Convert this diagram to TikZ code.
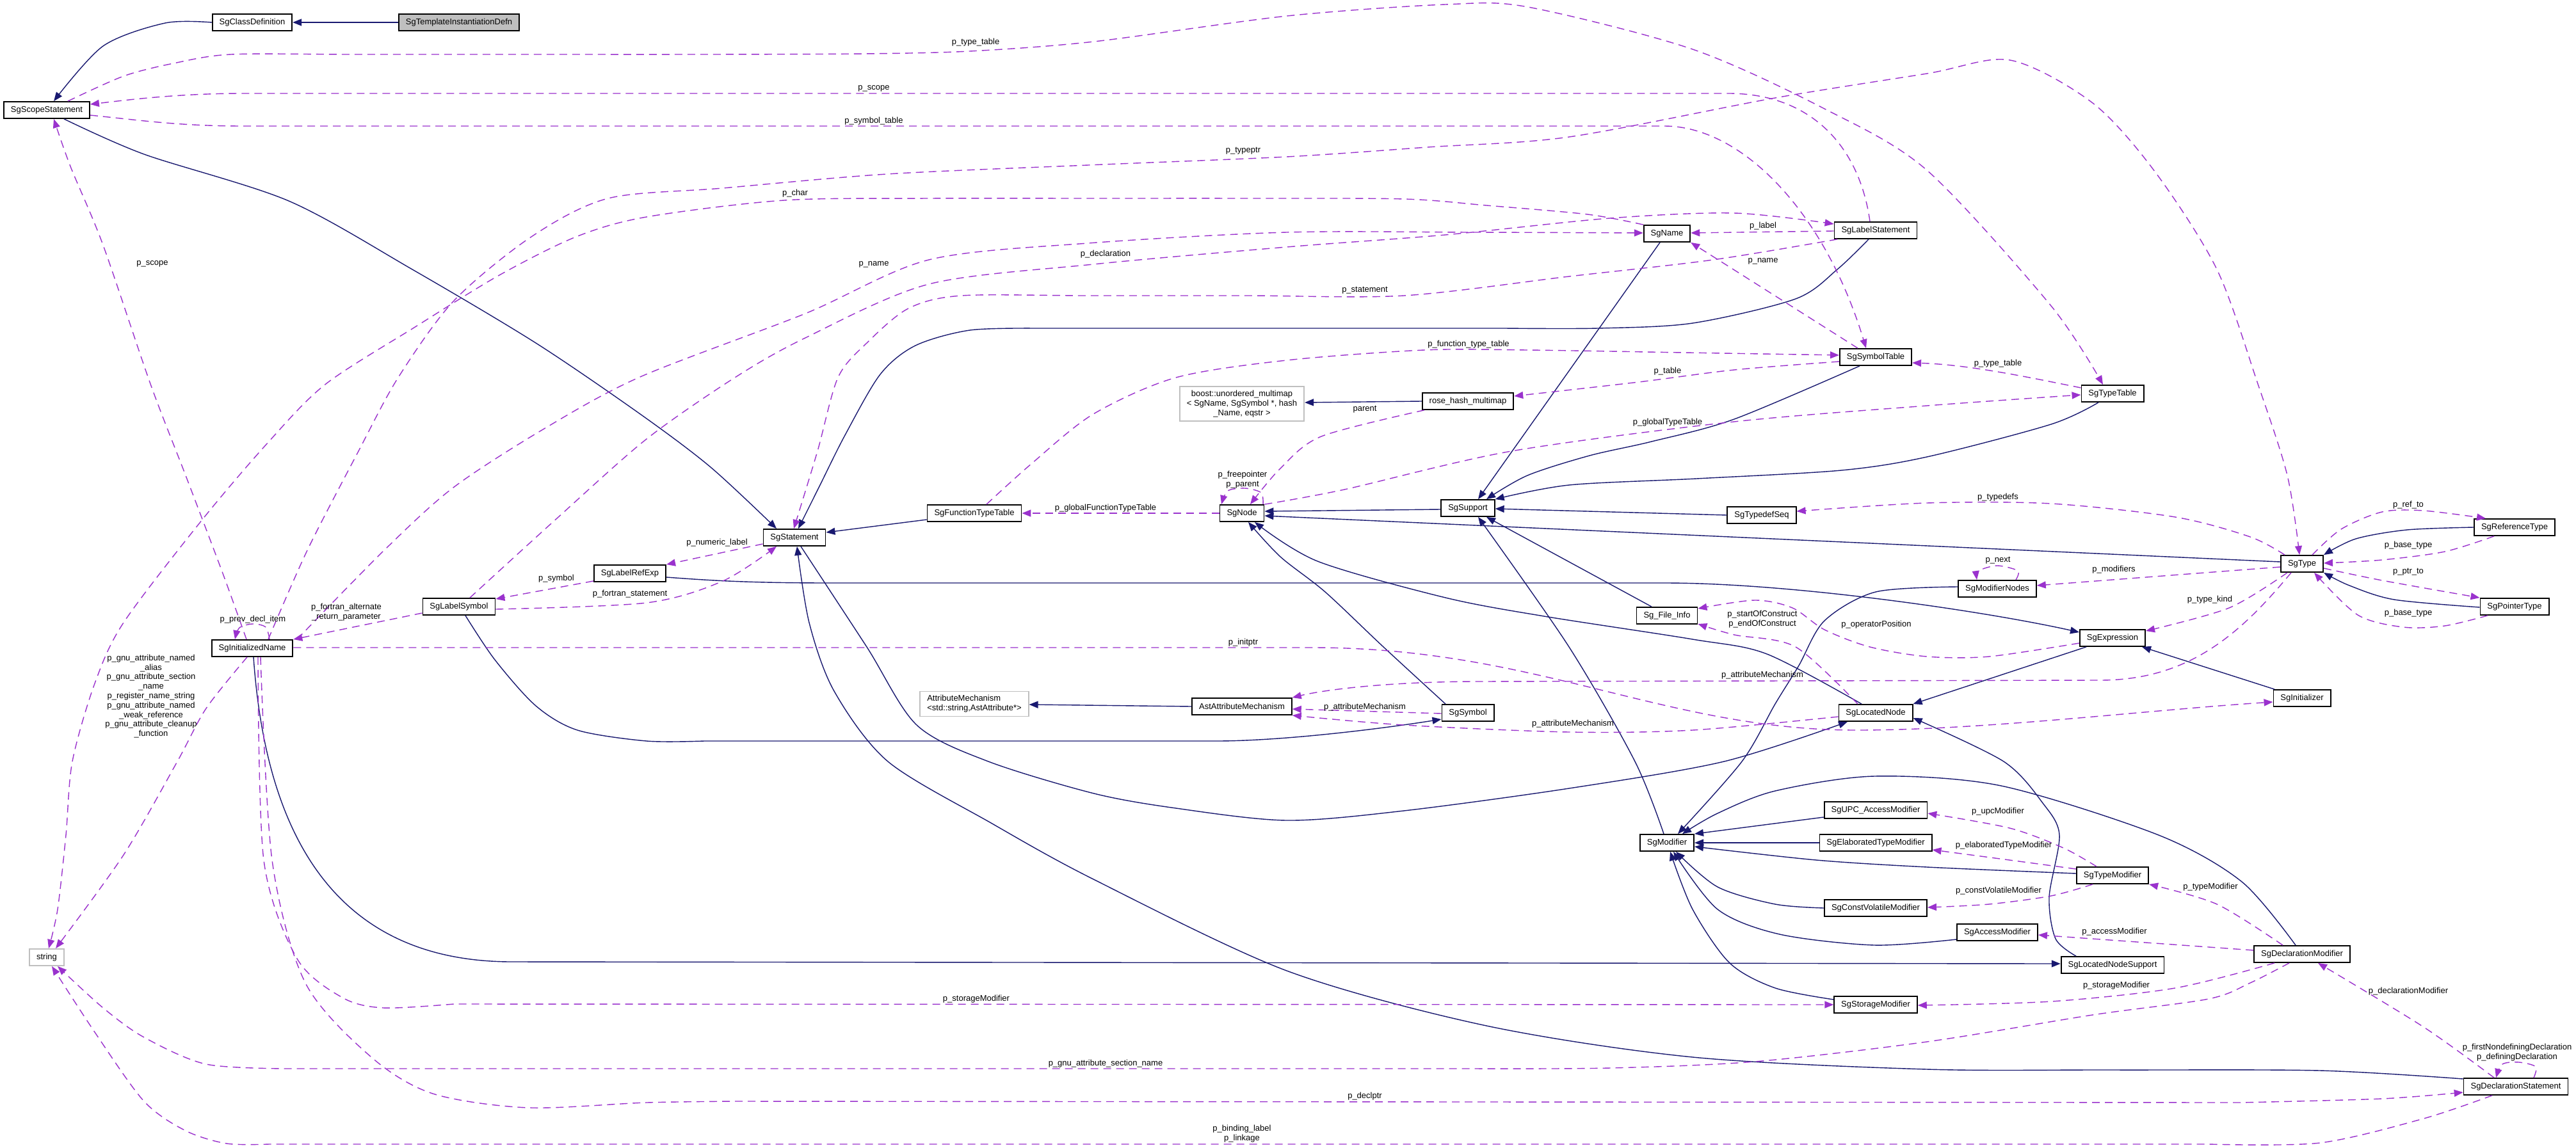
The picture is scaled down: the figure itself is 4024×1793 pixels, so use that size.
\documentclass[tikz,border=0pt]{standalone}
\usepackage{fontspec}
\setmainfont{Liberation Sans}
\usetikzlibrary{arrows.meta}
\definecolor{navyline}{HTML}{191970}
\definecolor{orchidline}{HTML}{9A32CD}
\definecolor{extgray}{HTML}{BFBFBF}
\newcommand\dxf{\fontsize{6.5pt}{7.4pt}\selectfont}
\begin{document}
\begin{tikzpicture}[x=0.5pt,y=-0.5pt,
  cls/.style={draw=black, line width=0.9pt, fill=white, minimum height=13pt, inner xsep=5.5pt, inner ysep=0pt, font=\dxf},
  ext/.style={cls, draw=extgray},
  inh/.style={draw=navyline, line width=0.7pt, -{Triangle[length=7pt,width=5.5pt]}},
  usage/.style={draw=orchidline, line width=0.7pt, dash pattern=on 6pt off 4pt, -{Triangle[length=7pt,width=5.5pt]}},
  lab/.style={font=\dxf, inner sep=0pt, align=center},
]
\fill[white] (0,0) rectangle (4024,1793);
\useasboundingbox (0,0) rectangle (4024,1793);

% ---------- nodes ----------
\node[cls, fill=extgray] (tid) at (717,35) {SgTemplateInstantiationDefn};
\node[cls] (cdef) at (394,35) {SgClassDefinition};
\node[cls] (scope) at (73,172) {SgScopeStatement};
\node[cls] (name) at (2604,365) {SgName};
\node[cls] (lstmt) at (2930,360) {SgLabelStatement};
\node[cls] (symtab) at (2930,558) {SgSymbolTable};
\node[ext, align=center, inner ysep=3pt] (boost) at (1940,631) {boost::unordered\_multimap\\< SgName, SgSymbol *, hash\\\_Name, eqstr >};
\node[cls] (rhm) at (2293,627) {rose\_hash\_multimap};
\node[cls] (ttab) at (3300,615) {SgTypeTable};
\node[cls] (stmt) at (1241,840) {SgStatement};
\node[cls] (ftt) at (1522,802) {SgFunctionTypeTable};
\node[cls] (sgnode) at (1940,802) {SgNode};
\node[cls] (support) at (2293,794) {SgSupport};
\node[cls] (tdseq) at (2752,805) {SgTypedefSeq};
\node[cls] (reftype) at (3928,824) {SgReferenceType};
\node[cls] (sgtype) at (3596,881) {SgType};
\node[cls] (ptrtype) at (3928,948) {SgPointerType};
\node[cls] (modnodes) at (3120,920) {SgModifierNodes};
\node[cls] (lrefexp) at (984,896) {SgLabelRefExp};
\node[cls] (lsym) at (717,948) {SgLabelSymbol};
\node[cls] (iname) at (394,1013) {SgInitializedName};
\node[cls] (fileinfo) at (2604,962) {Sg\_File\_Info};
\node[cls] (expr) at (3300,997) {SgExpression};
\node[ext, align=left, inner ysep=3pt] (attrmech) at (1522,1100) {AttributeMechanism\\<std::string,AstAttribute*>};
\node[cls] (astattr) at (1940,1104) {AstAttributeMechanism};
\node[cls] (symbol) at (2293,1114) {SgSymbol};
\node[cls] (lnode) at (2930,1114) {SgLocatedNode};
\node[cls] (init) at (3596,1091) {SgInitializer};
\node[cls] (modifier) at (2604,1317) {SgModifier};
\node[cls] (upc) at (2930,1266) {SgUPC\_AccessModifier};
\node[cls] (elab) at (2930,1317) {SgElaboratedTypeModifier};
\node[cls] (tmod) at (3300,1368) {SgTypeModifier};
\node[cls] (cvmod) at (2930,1419) {SgConstVolatileModifier};
\node[cls] (accmod) at (3120,1457) {SgAccessModifier};
\node[cls] (declmod) at (3596,1491) {SgDeclarationModifier};
\node[cls] (lns) at (3300,1508) {SgLocatedNodeSupport};
\node[cls] (stor) at (2930,1570) {SgStorageModifier};
\node[ext] (strnode) at (73,1496) {string};
\node[cls] (decl) at (3930,1698) {SgDeclarationStatement};

% ---------- inheritance edges ----------
\draw[inh] (tid) -- (cdef);
\draw[inh] plot[smooth] coordinates {(cdef.west) (258,36) (161,72) (scope.north -| 84,0)};
\draw[inh] plot[smooth] coordinates {(scope.south -| 100,0) (225,241) (451,314) (644,421) (837,536) (1000,647) (1110,730) (stmt.north -| 1213,0)};
\draw[inh] plot[smooth] coordinates {(lstmt.south -| 2919,0) (2870,421) (2805,467) (2644,505) (2496,513) (2350,513)}
   --plot[smooth] coordinates {(1620,513) (1515,516) (1430,540) (1375,585) (1320,680) (1280,760) (stmt.north -| 1247,0)};
\draw[inh] (ftt.west |- 0,812) -- (stmt.east |- 0,832);
\draw[inh] plot[smooth] coordinates {(decl.west |- 0,1686) (3624,1673) (3300,1672) (3010,1671) (2644,1652) (2322,1603) (2010,1517) (1708,1374) (1548,1286) (1387,1190) (1303,1080) (1264,973) (stmt.south -| 1245,0)};
\draw[inh] plot[smooth] coordinates {(stmt.south -| 1251,0) (1354,1011) (1432,1133) (1544,1190) (1709,1240) (1837,1263) (2010,1282) (2193,1267) (2451,1232) (2693,1190) (lnode.south -| 2886,0)};
\draw[inh] (lrefexp.east |- 0,902) .. controls (1120,908) and (1180,911) .. (1300,911) -- (2600,911) .. controls (2800,911) and (3100,955) .. (expr.west |- 0,988);
\draw[inh] (init.north -| 3553,0) -- (expr.south -| 3346,0);
\draw[inh] (expr.south -| 3259,0) -- (lnode.north east);
\draw[inh] plot[smooth] coordinates {(lns.north -| 3243,0) (3211,1467) (3201,1402) (3217,1305) (3191,1255) (3130,1190) (lnode.east |- 0,1122)};
\draw[inh] plot[smooth] coordinates {(lnode.north -| 2908,0) (2760,1022) (2644,999) (2412,963) (2258,934) (2058,877) (sgnode.south -| 1960,0)};
\draw[inh] plot[smooth] coordinates {(symbol.north -| 2258,0) (2160,1010) (2070,925) (2000,870) (sgnode.south -| 1950,0)};
\draw[inh] (support.west |- 0,796) -- (sgnode.east |- 0,799);
\draw[inh] (sgtype.west |- 0,878) -- (sgnode.east |- 0,806);
\draw[inh] plot[smooth] coordinates {(symtab.south -| 2905,0) (2709,655) (2580,690) (2483,712) (2386,743) (support.north -| 2322,0)};
\draw[inh] (name.south -| 2593,0) -- (support.north -| 2309,0);
\draw[inh] plot[smooth] coordinates {(ttab.south -| 3278,0) (3204,663) (3010,714) (2876,735) (2650,748) (2451,758) (support.north east)};
\draw[inh] (tdseq.west) -- (support.east |- 0,795);
\draw[inh] (fileinfo.north -| 2580,0) -- (support.south -| 2322,0);
\draw[inh] plot[smooth] coordinates {(modifier.north -| 2599,0) (2554,1190) (2451,1011) (support.south -| 2309,0)};
\draw[inh] plot[smooth] coordinates {(lsym.south -| 727,0) (773,1031) (837,1103) (902,1141) (1010,1158) (1100,1158)} -- (1900,1158) .. controls (2000,1158) and (2150,1140) .. (symbol.west |- 0,1124);
\draw[inh] (astattr.west) -- (attrmech.east |- 0,1101);
\draw[inh] (rhm.west) -- (boost.east |- 0,629);
\draw[inh] plot[smooth] coordinates {(reftype.west |- 0,824) (3760,828) (3680,842) (sgtype.north east)};
\draw[inh] plot[smooth] coordinates {(ptrtype.west |- 0,949) (3740,937) (3670,915) (sgtype.south east)};
\draw[inh] plot[smooth] coordinates {(modnodes.west |- 0,917) (2930,925) (2850,970) (2810,1040) (2773,1100) (2721,1190) (modifier.north -| 2621,0)};
\draw[inh] (upc.west |- 0,1277) -- (modifier.north east);
\draw[inh] (elab.west) -- (modifier.east);
\draw[inh] plot[smooth] coordinates {(tmod.west |- 0,1365) (3010,1355) (2837,1344) (modifier.east |- 0,1323)};
\draw[inh] plot[smooth] coordinates {(cvmod.west |- 0,1419) (2773,1413) (2683,1386) (modifier.south -| 2618,0)};
\draw[inh] plot[smooth] coordinates {(accmod.west |- 0,1468) (2928,1477) (2780,1460) (2683,1421) (modifier.south -| 2614,0)};
\draw[inh] plot[smooth] coordinates {(stor.west |- 0,1562) (2773,1544) (2702,1505) (2644,1421) (modifier.south -| 2609,0)};
\draw[inh] plot[smooth] coordinates {(declmod.north -| 3586,0) (3502,1378) (3372,1305) (3126,1228) (2928,1213) (2773,1236) (2683,1271) (modifier.north -| 2628,0)};
\draw[inh] (iname.south -| 396,0) .. controls (415,1300) and (520,1503) .. (800,1503) -- (lns.west |- 0,1506);

% ---------- usage edges ----------
\draw[usage] plot[smooth] coordinates {(scope.north -| 106,0) (193,119) (271,99) (361,85) (550,85) (800,85) (1100,85) (1350,84) (1515,80) (1709,65) (2010,25) (2258,7) (2387,11) (2644,77) (2850,170) (3010,266) (3204,478) (ttab.north -| 3285,0)};
\draw[usage] (lstmt.north -| 2921,0) .. controls (2905,230) and (2830,146) .. (2700,146) -- (380,146) .. controls (280,146) and (200,156) .. (scope.east |- 0,163);
\draw[usage] (scope.east |- 0,180) .. controls (220,188) and (280,197) .. (380,197) -- (2600,197) .. controls (2720,197) and (2850,330) .. (symtab.north -| 2915,0);
\draw[usage] plot[smooth] coordinates {(iname.north -| 419,0) (480,860) (560,705) (622,590) (709,470) (830,370) (950,310) (1129,294) (1386,272) (1700,258) (2010,245) (2230,230) (2451,214) (2773,153) (3010,115) (3140,94) (3269,161) (3366,268) (3463,421) (3527,600) (3573,743) (sgtype.north -| 3592,0)};
\draw[usage] plot[smooth] coordinates {(name.north west) (2480,335) (2322,321) (2193,311) (1950,310) (1700,310) (1451,310) (1225,313) (1010,339) (900,370) (780,430) (650,510) (509,600) (420,690) (316,812) (193,973) (148,1068) (113,1190) (103,1305) (90,1421) (strnode.north -| 76,0)};
\draw[usage] plot[smooth] coordinates {(iname.north -| 464,0) (600,860) (708,762) (850,670) (1000,589) (1258,490) (1451,406) (1700,380) (2010,363) (2300,363) (name.west |- 0,364)};
\draw[usage] plot[smooth] coordinates {(lsym.north -| 734,0) (870,810) (1010,686) (1148,590) (1258,528) (1451,444) (1708,413) (2010,386) (2258,367) (2515,341) (2709,333) (lstmt.west |- 0,350)};
\draw[usage] plot[smooth] coordinates {(lstmt.south -| 2870,0) (2676,406) (2451,432) (2193,462) (1950,462) (1700,462) (1502,462) (1419,482) (1354,536) (1309,590) (1277,705) (stmt.north -| 1240,0)};
\draw[usage] (lstmt.west |- 0,361) -- (name.east |- 0,364);
\draw[usage] (symtab.north -| 2902,0) -- (name.south east);
\draw[usage] plot[smooth] coordinates {(ftt.north -| 1541,0) (1612,724) (1708,647) (1837,590) (2010,563) (2225,547) (2386,547) (2630,551) (symtab.west |- 0,555)};
\draw[usage] plot[smooth] coordinates {(symtab.west |- 0,565) (2709,578) (2560,597) (rhm.east |- 0,619)};
\draw[usage] (ttab.west |- 0,606) .. controls (3180,592) and (3080,570) .. (symtab.east |- 0,567);
\draw[usage] plot[smooth] coordinates {(sgnode.north east) (2100,765) (2361,705) (2709,659) (3010,634) (ttab.west |- 0,617)};
\draw[usage] plot[smooth] coordinates {(rhm.south -| 2225,0) (2064,682) (2000,732) (sgnode.north -| 1953,0)};
\draw[usage] plot[smooth] coordinates {(sgnode.north -| 1973,0) (1970,770) (1945,763) (1918,767) (sgnode.north -| 1908,0)};
\draw[usage] (sgnode.west) -- (ftt.east);
\draw[usage] (stmt.west |- 0,850) -- (lrefexp.north east);
\draw[usage] plot[smooth] coordinates {(lsym.east |- 0,952) (1010,942) (1129,908) (stmt.south -| 1213,0)};
\draw[usage] (lrefexp.west |- 0,908) -- (lsym.east |- 0,936);
\draw[usage] (lsym.west |- 0,958) -- (iname.north east);
\draw[usage] plot[smooth] coordinates {(iname.north -| 421,0) (415,980) (395,975) (374,981) (iname.north -| 367,0)};
\draw[usage] plot[smooth] coordinates {(iname.north -| 385,0) (348,896) (290,743) (235,600) (161,383) (110,260) (scope.south -| 84,0)};
\draw[usage] (iname.east |- 0,1012) -- (2050,1012) .. controls (2400,1012) and (2600,1141) .. (2900,1141) .. controls (3100,1141) and (3350,1110) .. (init.west |- 0,1097);
\draw[usage] (sgtype.south -| 3579,0) .. controls (3500,990) and (3420,1063) .. (3280,1063) -- (2300,1065) .. controls (2150,1066) and (2060,1080) .. (astattr.north east);
\draw[usage] (symbol.west |- 0,1115) -- (astattr.east |- 0,1108);
\draw[usage] plot[smooth] coordinates {(lnode.west |- 0,1120) (2644,1141) (2451,1144) (2193,1133) (astattr.south east)};
\draw[usage] plot[smooth] coordinates {(lnode.north -| 2902,0) (2805,1011) (2709,992) (fileinfo.east |- 0,975)};
\draw[usage] plot[smooth] coordinates {(expr.west |- 0,1005) (3107,1026) (3010,1026) (2921,1011) (2850,984) (2800,950) (2741,938) (fileinfo.east |- 0,951)};
\draw[usage] plot[smooth] coordinates {(sgtype.north -| 3569,0) (3515,839) (3398,808) (3204,787) (3010,786) (tdseq.east |- 0,799)};
\draw[usage] (sgtype.west |- 0,886) -- (modnodes.east |- 0,915);
\draw[usage] plot[smooth] coordinates {(modnodes.north -| 3149,0) (3152,892) (3120,884) (3091,892) (modnodes.north -| 3088,0)};
\draw[usage] plot[smooth] coordinates {(sgtype.south -| 3573,0) (3482,950) (expr.east |- 0,986)};
\draw[usage] plot[smooth] coordinates {(sgtype.north -| 3612,0) (3657,827) (3721,800) (3786,798) (reftype.north -| 3883,0)};
\draw[usage] plot[smooth] coordinates {(reftype.south -| 3896,0) (3819,862) (3721,875) (sgtype.east |- 0,880)};
\draw[usage] plot[smooth] coordinates {(sgtype.east |- 0,888) (3721,907) (ptrtype.north west)};
\draw[usage] plot[smooth] coordinates {(ptrtype.south -| 3886,0) (3819,978) (3754,980) (3683,961) (sgtype.south -| 3615,0)};
\draw[usage] plot[smooth] coordinates {(tmod.north -| 3275,0) (3223,1325) (3139,1294) (upc.east |- 0,1271)};
\draw[usage] plot[smooth] coordinates {(tmod.west |- 0,1358) (3139,1344) (elab.east |- 0,1328)};
\draw[usage] plot[smooth] coordinates {(tmod.south -| 3269,0) (3204,1400) (3107,1413) (cvmod.east |- 0,1418)};
\draw[usage] plot[smooth] coordinates {(declmod.north -| 3566,0) (3463,1413) (tmod.south east)};
\draw[usage] (declmod.west |- 0,1485) -- (accmod.east |- 0,1461);
\draw[usage] plot[smooth] coordinates {(declmod.south -| 3553,0) (3398,1544) (3204,1565) (stor.east |- 0,1571)};
\draw[usage] plot[smooth] coordinates {(iname.south -| 403,0) (412,1344) (464,1498) (535,1559) (599,1575) (709,1569)} -- (stor.west |- 0,1570);
\draw[usage] plot[smooth] coordinates {(declmod.south -| 3576,0) (3515,1536) (3450,1561) (3269,1586) (3010,1628) (2741,1659) (2515,1669) (2300,1670)}
   --plot[smooth] coordinates {(450,1670) (322,1663) (225,1621) (161,1575) (strnode.south -| 90,0)};
\draw[usage] plot[smooth] coordinates {(iname.south -| 407,0) (425,1344) (477,1536) (580,1652) (676,1709) (824,1731) (1010,1723) (1150,1721)}
   --plot[smooth] coordinates {(3500,1723) (3721,1717) (decl.west |- 0,1707)};
\draw[usage] plot[smooth] coordinates {(decl.south -| 3893,0) (3786,1748) (3624,1786) (3450,1788)}
   --plot[smooth] coordinates {(420,1788) (354,1787) (290,1767) (225,1721) (148,1613) (strnode.south -| 81,0)};
\draw[usage] plot[smooth] coordinates {(decl.north -| 3896,0) (3786,1605) (declmod.south -| 3621,0)};
\draw[usage] plot[smooth] coordinates {(decl.north -| 3958,0) (3961,1667) (3935,1660) (3909,1663) (decl.north -| 3899,0)};
\draw[usage] plot[smooth] coordinates {(iname.south -| 386,0) (322,1107) (277,1190) (193,1336) (strnode.north -| 87,0)};

% ---------- labels ----------
\node[lab] (t1) at (1524,66) {p\_type\_table};
\node[lab] (t2) at (1365,138) {p\_scope};
\node[lab] (t3) at (1365,189) {p\_symbol\_table};
\node[lab] (t4) at (1942,236) {p\_typeptr};
\node[lab] (t5) at (1242,302) {p\_char};
\node[lab] (t6) at (1365,413) {p\_name};
\node[lab] (t7) at (1727,397) {p\_declaration};
\node[lab] (t8) at (238,412) {p\_scope};
\node[lab] (t9) at (2754,353) {p\_label};
\node[lab] (t10) at (2754,408) {p\_name};
\node[lab] (t11) at (2132,454) {p\_statement};
\node[lab] (t12) at (2294,538) {p\_function\_type\_table};
\node[lab] (t13) at (2605,580) {p\_table};
\node[lab] (t14) at (3121,568) {p\_type\_table};
\node[lab] (t15) at (2132,640) {parent};
\node[lab] (t16) at (2605,660) {p\_globalTypeTable};
\node[lab] (t17) at (1941,750) {p\_freepointer\\p\_parent};
\node[lab] (t18) at (1727,794) {p\_globalFunctionTypeTable};
\node[lab] (t19) at (1120,848) {p\_numeric\_label};
\node[lab] (t20) at (869,904) {p\_symbol};
\node[lab] (t21) at (984,928) {p\_fortran\_statement};
\node[lab] (t22) at (541,957) {p\_fortran\_alternate\\\_return\_parameter};
\node[lab] (t23) at (395,968) {p\_prev\_decl\_item};
\node[lab] (t24) at (236,1088) {p\_gnu\_attribute\_named\\\_alias\\p\_gnu\_attribute\_section\\\_name\\p\_register\_name\_string\\p\_gnu\_attribute\_named\\\_weak\_reference\\p\_gnu\_attribute\_cleanup\\\_function};
\node[lab] (t25) at (1942,1004) {p\_initptr};
\node[lab] (t26) at (3121,777) {p\_typedefs};
\node[lab] (t27) at (3762,789) {p\_ref\_to};
\node[lab] (t28) at (3762,852) {p\_base\_type};
\node[lab] (t29) at (3762,894) {p\_ptr\_to};
\node[lab] (t30) at (3762,958) {p\_base\_type};
\node[lab] (t31) at (3121,876) {p\_next};
\node[lab] (t32) at (3302,890) {p\_modifiers};
\node[lab] (t33) at (3452,937) {p\_type\_kind};
\node[lab] (t34) at (2753,968) {p\_startOfConstruct\\p\_endOfConstruct};
\node[lab] (t35) at (2931,976) {p\_operatorPosition};
\node[lab] (t36) at (2753,1055) {p\_attributeMechanism};
\node[lab] (t37) at (2132,1105) {p\_attributeMechanism};
\node[lab] (t38) at (2457,1131) {p\_attributeMechanism};
\node[lab] (t39) at (3121,1268) {p\_upcModifier};
\node[lab] (t40) at (3130,1321) {p\_elaboratedTypeModifier};
\node[lab] (t41) at (3122,1392) {p\_constVolatileModifier};
\node[lab] (t42) at (3453,1386) {p\_typeModifier};
\node[lab] (t43) at (3303,1456) {p\_accessModifier};
\node[lab] (t44) at (3306,1540) {p\_storageModifier};
\node[lab] (t45) at (3762,1549) {p\_declarationModifier};
\node[lab] (t46) at (1525,1561) {p\_storageModifier};
\node[lab] (t47) at (1727,1662) {p\_gnu\_attribute\_section\_name};
\node[lab] (t48) at (2132,1713) {p\_declptr};
\node[lab] (t49) at (3932,1645) {p\_firstNondefiningDeclaration\\p\_definingDeclaration};
\node[lab] (t50) at (1940,1772) {p\_binding\_label\\p\_linkage};
\end{tikzpicture}
\end{document}
